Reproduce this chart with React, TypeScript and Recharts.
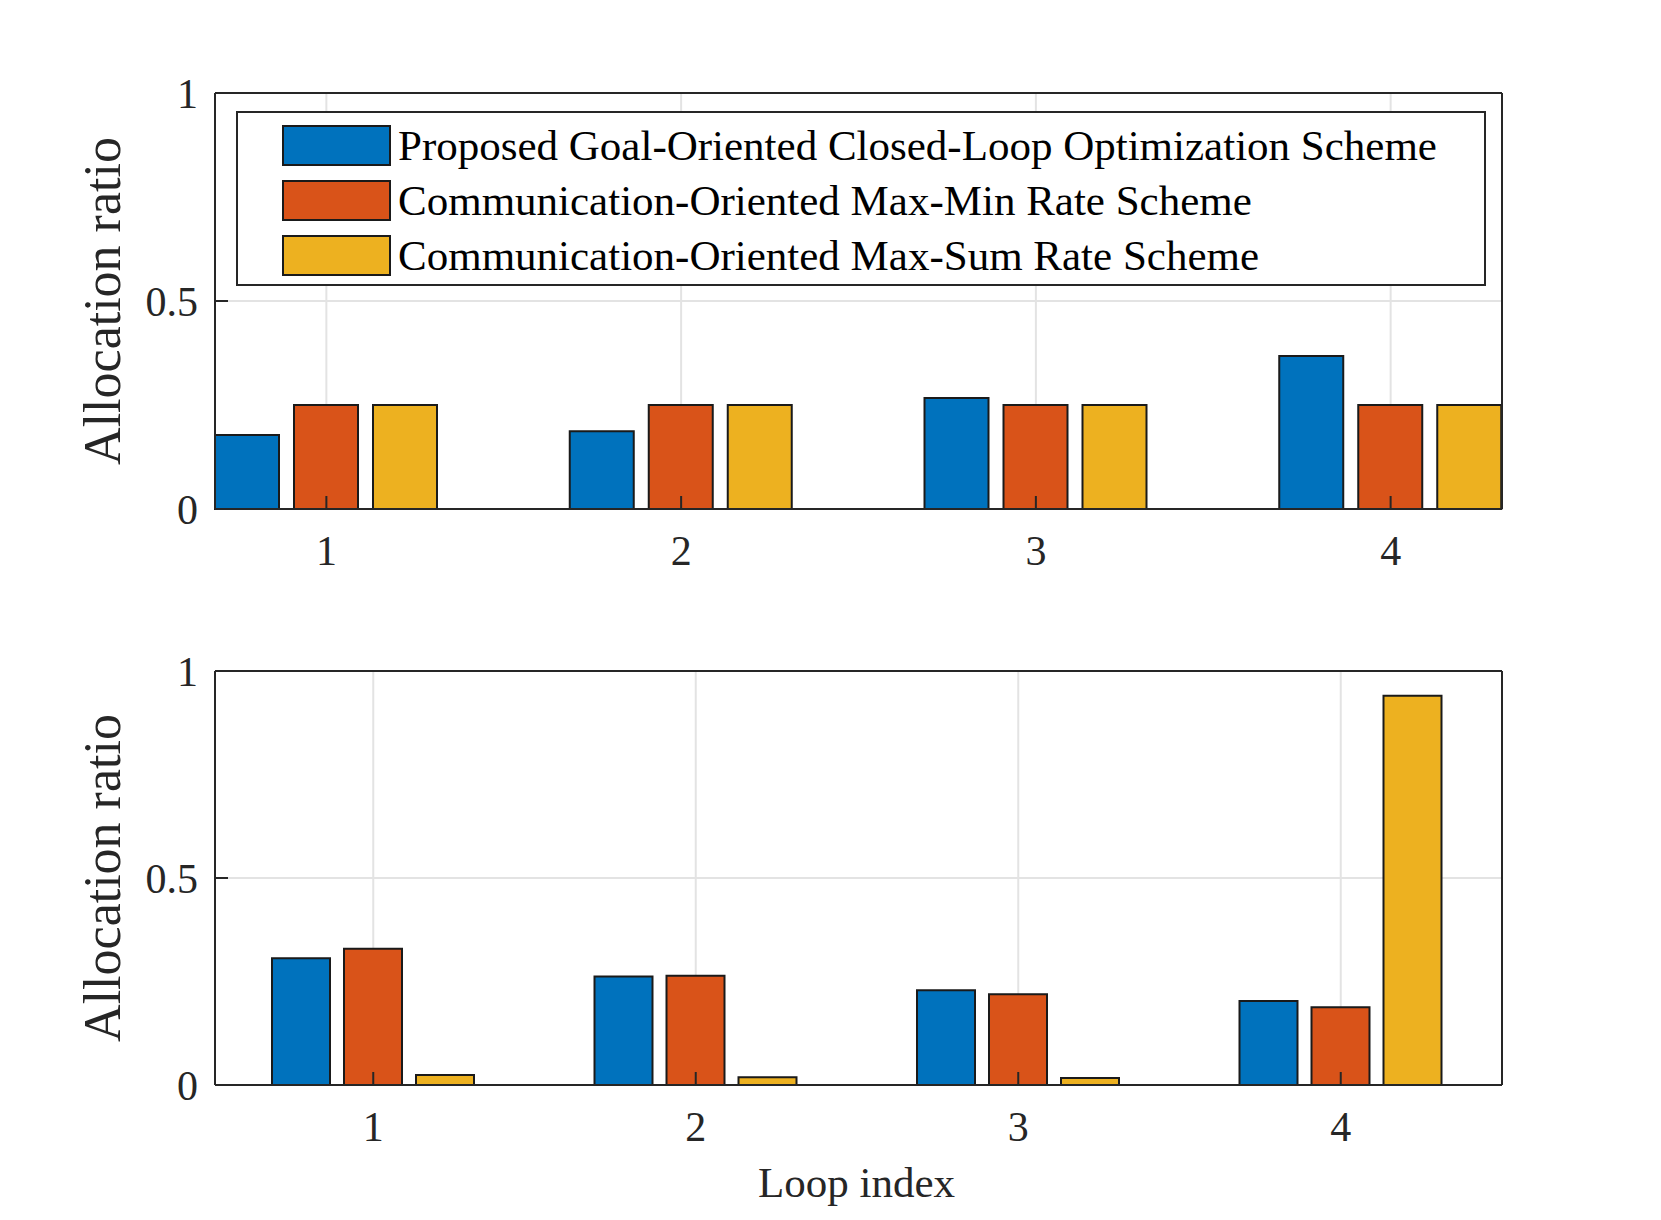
import React from 'react';
import { BarChart, Bar, XAxis, YAxis, CartesianGrid } from 'recharts';

const LOOPS = ['1', '2', '3', '4'];
const SERIES_NAMES = [
  'Proposed Goal-Oriented Closed-Loop Optimization Scheme',
  'Communication-Oriented Max-Min Rate Scheme',
  'Communication-Oriented Max-Sum Rate Scheme',
];
const COLORS = ['#0072BD', '#D95319', '#EDB120'];
const Y_TICKS = [0, 0.5, 1];

// upper panel
const TOP_PROPOSED = [0.178, 0.187, 0.267, 0.368];
const TOP_MAXMIN = [0.25, 0.25, 0.25, 0.25];
const TOP_MAXSUM = [0.25, 0.25, 0.25, 0.25];

// lower panel
const BOT_PROPOSED = [0.306, 0.262, 0.229, 0.203];
const BOT_MAXMIN = [0.329, 0.264, 0.219, 0.188];
const BOT_MAXSUM = [0.024, 0.019, 0.017, 0.94];

const FONT = '"Liberation Serif", "Times New Roman", serif';
const AXIS = '#262626';
const GRID = '#e3e3e3';
const EDGE = '#1a1a1a';
const TICK = 13;

const toRows = (a: number[], b: number[], c: number[]) =>
  LOOPS.map((loop, i) => ({ loop, s0: a[i], s1: b[i], s2: c[i] }));

const topData = toRows(TOP_PROPOSED, TOP_MAXMIN, TOP_MAXSUM);
const botData = toRows(BOT_PROPOSED, BOT_MAXMIN, BOT_MAXSUM);

const yLabel = (props: any) => {
  const vb = props.viewBox;
  const cy = vb.y + vb.height / 2;
  const cx = vb.x + vb.width - 113;
  return (
    <text
      x={cx}
      y={cy}
      transform={`rotate(-90, ${cx}, ${cy})`}
      textAnchor="middle"
      dominantBaseline="central"
      fontFamily={FONT}
      fontSize={52}
      fill={AXIS}
    >
      Allocation ratio
    </text>
  );
};

const xLabel = (props: any) => {
  const vb = props.viewBox;
  return (
    <text
      x={vb.x + vb.width / 2 - 2}
      y={vb.y + 112}
      textAnchor="middle"
      fontFamily={FONT}
      fontSize={43}
      fill={AXIS}
    >
      Loop index
    </text>
  );
};

interface PanelProps {
  data: any[];
  height: number;
  margin: { top: number; right: number; bottom: number; left: number };
  barSize: number;
  barGap: number;
  pad: { left: number; right: number };
  showXLabel?: boolean;
}

const Panel: React.FC<PanelProps> = ({ data, height, margin, barSize, barGap, pad, showXLabel }) => {
  const tickStyle = { fontFamily: FONT, fontSize: 42, fill: AXIS };
  const line = { stroke: AXIS, strokeWidth: 2 };
  return (
    <BarChart width={1661} height={height} data={data} margin={margin} barGap={barGap} barSize={barSize}>
      <CartesianGrid stroke={GRID} strokeWidth={2} horizontalValues={Y_TICKS} />
      {['s0', 's1', 's2'].map((k, i) => (
        <Bar
          key={k}
          dataKey={k}
          fill={COLORS[i]}
          stroke={EDGE}
          strokeWidth={2}
          isAnimationActive={false}
        />
      ))}
      <XAxis
        dataKey="loop"
        height={1}
        padding={pad}
        tickSize={-TICK}
        tickMargin={TICK + 26}
        tick={tickStyle}
        axisLine={line}
        tickLine={line}
        label={showXLabel ? xLabel : undefined}
      />
      <XAxis
        xAxisId="top"
        orientation="top"
        dataKey="loop"
        height={1}
        padding={pad}
        tickSize={-TICK}
        tick={false}
        axisLine={line}
        tickLine={line}
      />
      <YAxis
        width={1}
        type="number"
        domain={[0, 1]}
        ticks={Y_TICKS}
        tickSize={-TICK}
        tickMargin={TICK + 17}
        tick={tickStyle}
        axisLine={line}
        tickLine={line}
        label={yLabel}
      />
      <YAxis
        yAxisId="right"
        orientation="right"
        width={1}
        type="number"
        domain={[0, 1]}
        ticks={Y_TICKS}
        tickSize={-TICK}
        tick={false}
        axisLine={line}
        tickLine={line}
      />
    </BarChart>
  );
};

const LegendBox: React.FC = () => (
  <div
    style={{
      position: 'absolute',
      left: 236,
      top: 111,
      width: 1250,
      height: 175,
      boxSizing: 'border-box',
      border: `2px solid ${AXIS}`,
      background: '#fff',
      fontFamily: FONT,
    }}
  >
    {SERIES_NAMES.map((name, i) => (
      <div
        key={name}
        style={{ position: 'absolute', left: 44, top: 10 + i * 55, height: 45, display: 'flex', alignItems: 'center' }}
      >
        <div
          style={{
            width: 109,
            height: 41,
            boxSizing: 'border-box',
            background: COLORS[i],
            border: `2px solid ${EDGE}`,
          }}
        />
        <span style={{ marginLeft: 7, fontSize: 43, color: '#000', whiteSpace: 'nowrap', lineHeight: '45px' }}>
          {name}
        </span>
      </div>
    ))}
  </div>
);

export default function App() {
  return (
    <div style={{ position: 'relative', width: 1661, height: 1220, background: '#fff' }}>
      <style>{'body{margin:0;background:#fff}'}</style>
      <div style={{ position: 'absolute', left: 0, top: 0 }}>
        <Panel
          data={topData}
          height={600}
          margin={{ top: 92, right: 158, bottom: 90, left: 214 }}
          barSize={64}
          barGap={15}
          pad={{ left: -66, right: -66 }}
        />
      </div>
      <div style={{ position: 'absolute', left: 0, top: 600 }}>
        <Panel
          data={botData}
          height={620}
          margin={{ top: 70, right: 158, bottom: 134, left: 214 }}
          barSize={58}
          barGap={14}
          pad={{ left: -3, right: 0 }}
          showXLabel
        />
      </div>
      <LegendBox />
    </div>
  );
}
